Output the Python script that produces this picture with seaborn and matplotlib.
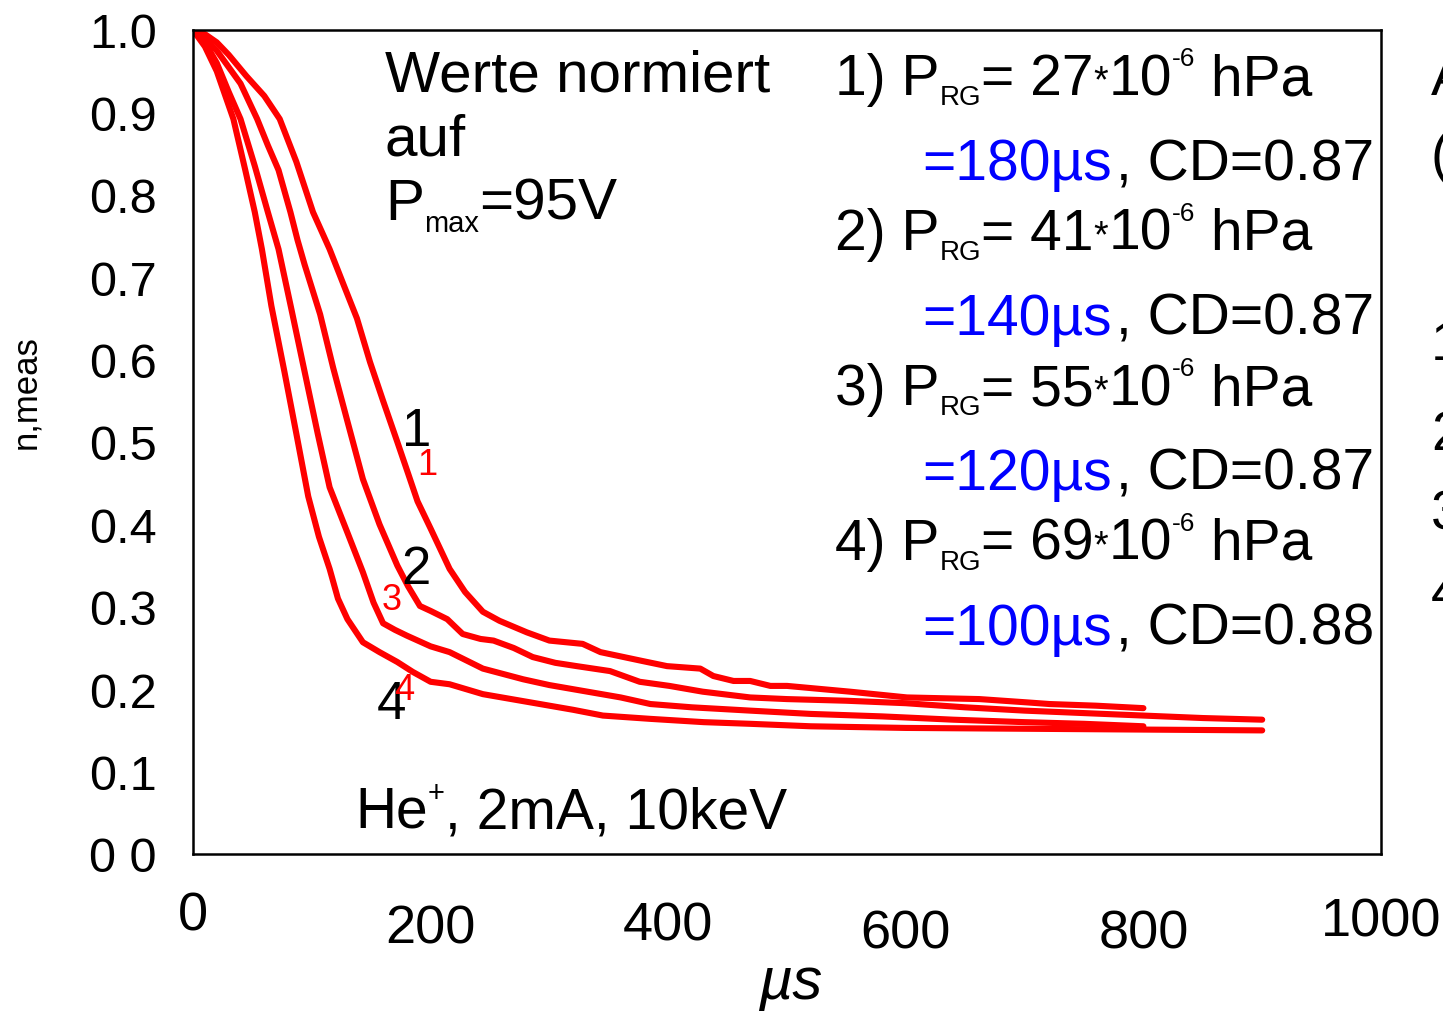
import matplotlib
matplotlib.use("Agg")
import matplotlib.pyplot as plt
import pandas as pd
import seaborn as sns

# ---------------- data ----------------
curve1_x = [0, 10, 20, 30, 45, 60, 73, 87, 101, 115, 127, 138, 149, 160, 172, 181, 189,
            200, 216, 229, 244, 258, 281, 300, 328, 343, 379, 399, 427, 438, 455, 469,
            486, 500, 553, 601, 662, 702, 721, 760, 800]
curve1_y = [1.0, 0.995, 0.985, 0.97, 0.944, 0.92, 0.892, 0.84, 0.779, 0.734, 0.69, 0.65,
            0.597, 0.55, 0.50, 0.462, 0.428, 0.395, 0.346, 0.318, 0.294, 0.283, 0.269, 0.259,
            0.255, 0.245, 0.234, 0.228, 0.225, 0.216, 0.210, 0.210, 0.204, 0.204, 0.197,
            0.190, 0.188, 0.184, 0.182, 0.180, 0.177]

curve2_x = [0, 10, 20, 30, 40, 54, 63, 72, 82, 88, 94, 107, 118, 130, 143, 157, 172, 181,
            191, 200, 214, 227, 242, 253, 270, 286, 305, 323, 351, 376, 401, 429, 469, 500,
            550, 600, 650, 700, 750, 800, 850, 900]
curve2_y = [1.0, 0.99, 0.975, 0.955, 0.935, 0.892, 0.86, 0.83, 0.779, 0.745, 0.715, 0.655,
            0.59, 0.525, 0.455, 0.40, 0.35, 0.325, 0.301, 0.295, 0.285, 0.267, 0.261, 0.259,
            0.25, 0.239, 0.232, 0.228, 0.222, 0.209, 0.204, 0.197, 0.19, 0.188, 0.186, 0.183,
            0.178, 0.174, 0.171, 0.168, 0.165, 0.163]

curve3_x = [0, 10, 20, 30, 40, 52, 63, 72, 83, 94, 105, 115, 130, 143, 152, 160, 170, 180,
            200, 216, 244, 278, 300, 328, 360, 385, 420, 469, 520, 580, 640, 700, 750, 800]
curve3_y = [1.0, 0.985, 0.96, 0.925, 0.892, 0.835, 0.779, 0.734, 0.66, 0.585, 0.51, 0.445,
            0.39, 0.342, 0.305, 0.28, 0.272, 0.265, 0.252, 0.245, 0.225, 0.212, 0.205, 0.198,
            0.19, 0.182, 0.178, 0.174, 0.17, 0.167, 0.163, 0.16, 0.158, 0.155]

curve4_x = [0, 10, 20, 34, 44, 52, 58, 66, 77, 87, 97, 106, 115, 122, 130, 143, 157, 172,
            185, 200, 216, 244, 284, 320, 345, 385, 430, 469, 520, 600, 700, 800, 900]
curve4_y = [1.0, 0.98, 0.95, 0.892, 0.83, 0.779, 0.734, 0.665, 0.585, 0.51, 0.434, 0.385,
            0.346, 0.31, 0.285, 0.257, 0.245, 0.233, 0.221, 0.209, 0.206, 0.194, 0.184, 0.175,
            0.168, 0.164, 0.16, 0.158, 0.155, 0.153, 0.152, 0.151, 0.150]

series_names = ["1", "2", "3", "4"]
pressures = ["27", "41", "55", "69"]
taus = ["180", "140", "120", "100"]
cds = ["0.87", "0.87", "0.87", "0.88"]

x_ticks = [0, 200, 400, 600, 800, 1000]
x_tick_labels = ["0", "200", "400", "600", "800", "1000"]
y_ticks = [0.0, 0.1, 0.2, 0.3, 0.4, 0.5, 0.6, 0.7, 0.8, 0.9, 1.0]
y_tick_labels = ["0 0", "0.1", "0.2", "0.3", "0.4", "0.5", "0.6", "0.7", "0.8", "0.9", "1.0"]

# curve-label annotations (black big, red small) in data coordinates
black_labels = [("1", 188, 0.513), ("2", 188, 0.346), ("4", 167, 0.182)]
red_labels = [("1", 197, 0.473), ("3", 167, 0.309), ("4", 178, 0.200)]

# ---------------- build long table ----------------
frames = []
for name, xs, ys in zip(series_names,
                        [curve1_x, curve2_x, curve3_x, curve4_x],
                        [curve1_y, curve2_y, curve3_y, curve4_y]):
    frames.append(pd.DataFrame({"t": xs, "n": ys, "series": name}))
df = pd.concat(frames, ignore_index=True)

# ---------------- style ----------------
sns.set_theme(style="white")
plt.rcParams["font.family"] = ["Liberation Sans", "DejaVu Sans"]
plt.rcParams["mathtext.default"] = "regular"
for k in ["text.color", "axes.labelcolor", "xtick.color", "ytick.color"]:
    plt.rcParams[k] = "black"

W, H = 1443, 1012
fig = plt.figure(figsize=(W / 100, H / 100), dpi=100)
ax_l, ax_r, ax_t, ax_b = 193, 1381, 31, 855
ax = fig.add_axes([ax_l / W, 1 - ax_b / H, (ax_r - ax_l) / W, (ax_b - ax_t) / H])

sns.lineplot(data=df, x="t", y="n", hue="series", palette=["#ff0000"] * 4,
             sort=False, estimator=None, linewidth=4.4, legend=False, ax=ax)

ax.set_xlim(0, 1000)
ax.set_ylim(0, 1)
ax.set_xticks(x_ticks)
ax.set_xticklabels(x_tick_labels, fontsize=39)
ax.set_yticks(y_ticks)
ax.set_yticklabels(y_tick_labels, fontsize=35)
ax.tick_params(axis="y", direction="out", length=8, width=2, pad=18, colors="black")
ax.tick_params(axis="x", direction="out", length=12, width=1.5, pad=20, colors="black")
for s in ax.spines.values():
    s.set_visible(True)
    s.set_color("black")
    s.set_linewidth(1.8)

# slight vertical jitter of x tick labels as in the reference (px, downward)
axh = ax_b - ax_t
for lbl, dy in zip(ax.get_xticklabels(), [-8, 5, 2, 10, 10, -2]):
    lbl.set_y(-dy / axh)

ax.set_xlabel("µs", fontsize=43, style="italic", color="black")
ax.xaxis.set_label_coords(0.5025, -0.122)
ax.set_ylabel("n,meas", fontsize=25, color="black")
ax.yaxis.set_label_coords(-0.127, 0.562)

# curve labels
for t, x, y in black_labels:
    ax.text(x, y, t, fontsize=38, color="black", ha="center", va="center")
for t, x, y in red_labels:
    ax.text(x, y, t, fontsize=26, color="#ff0000", ha="center", va="center")

renderer = fig.canvas.get_renderer()


def chain(x_px, base_px, parts):
    """Write text pieces one after another on a common baseline (pixel coords)."""
    x = x_px
    for txt, size, dy, color in parts:
        t = fig.text(x / W, 1 - (base_px - dy) / H, txt, fontsize=size, color=color,
                     va="baseline", ha="left")
        x = t.get_window_extent(renderer).x1
    return x


BIG = 41
SUB = 20

# top-left note
chain(385, 91, [("Werte normiert", 42, 0, "black")])
chain(385, 155, [("auf", 42, 0, "black")])
chain(385, 220, [("P", 42, 0, "black"), ("max", 21, -12, "black"),
                 ("=95V", 42, 0, "black")])

# bottom note
chain(355, 828, [("He", BIG, 0, "black"), ("+", 21, 26, "black"),
                 (", 2mA, 10keV", BIG, 0, "black")])

# right-hand parameter list
base = [95, 250, 405, 560]
for i in range(4):
    y0 = base[i]
    chain(835, y0, [(f"{series_names[i]}) P", BIG, 0, "black"),
                    ("RG", SUB, -10, "black"),
                    (f"= {pressures[i]}", BIG, 0, "black"),
                    ("*", 27, 3, "black"),
                    ("10", BIG, 0, "black"),
                    ("-6", 19, 29, "black"),
                    (" hPa", BIG, 0, "black")])
    blk = fig.text(1374 / W, 1 - (y0 + 85) / H, f", CD={cds[i]}", fontsize=BIG,
                   va="baseline", ha="right", color="black")
    x0 = blk.get_window_extent(renderer).x0
    fig.text((x0 - 4) / W, 1 - (y0 + 85) / H, f"={taus[i]}µs", fontsize=BIG,
             va="baseline", ha="right", color="#0000ff")

# characters cut off at the right edge of the reference
for ch, yb in [("A", 95), ("(", 172), ("1", 360), ("2", 450), ("3", 530), ("4", 610)]:
    fig.text(1431 / W, 1 - yb / H, ch, fontsize=40, va="baseline", ha="left")

fig.savefig("out.png", dpi=100)
